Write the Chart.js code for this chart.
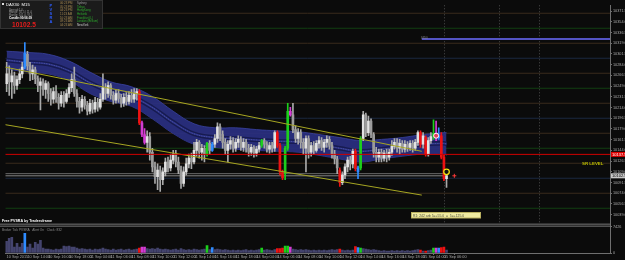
<!DOCTYPE html>
<html>
<head>
<meta charset="utf-8">
<title>DAX30 M15</title>
<script src="https://cdn.jsdelivr.net/npm/chart.js@4.4.0/dist/chart.umd.min.js"></script>
<style>
  html, body { margin: 0; padding: 0; background: #0b0b0b; }
  canvas { display: block; }
</style>
</head>
<body>
<canvas id="chart" width="625" height="260"></canvas>
<script>
// ================================
// DAX30 M15 - PVSRA chart
// ================================

// OHLC per M15 candle (index 0 = first candle on screen)
const openP = [
  10253,10269,10256,10266,10250,10259.5,10269,10280,10301,10282,
  10269,10275.5,10261,10250,10256,10243.5,10253,10237,10227.5,10240,
  10230.5,10221,10234,10224,10237,10246.5,10259.5,10237,10224,10214.5,
  10227.5,10218,10208,10221,10211.5,10222.5,10214.5,10227.5,10246.5,10237,
  10250,10234,10226,10237,10229,10221,10230.5,10224,10234,10227.5,
  10237,10240,10189,10170,10157,10166.5,10141,10117,10101,10112,
  10096,10109,10125,10115.5,10128,10138,10125,10112,10090,10109,
  10122,10131.5,10125,10144,10157,10141,10147.5,10138,10155.5,10144,
  10154,10163.5,10182.5,10170,10157,10144,10154,10160,10147.5,10157,
  10162,10149,10157,10147.5,10141,10149,10139.5,10146,10152,10160,
  10154,10146,10152,10147.5,10173,10152,10109,10106,10147.5,10208,
  10202,10178,10163.5,10173,10157,10147.5,10163.5,10141,10152,10144,
  10155.5,10160,10149,10157,10162,10152,10138,10130,10112,10091.5,
  10104,10117,10128,10122,10142.5,10109,10115.5,10163.5,10202,10173,
  10192,10170,10141,10133,10141,10131.5,10139.5,10133,10141,10150.5,
  10157,10147.5,10155.5,10146,10154,10149,10155.5,10147.5,10157,10173,
  10154,10165,10138,10160,10166.5,10171.5,10165,10168,10133,10098
];
const highP = [
  10288,10282,10275.5,10272,10266,10277,10288,10320,10306,10288,
  10283.5,10280,10266,10262.5,10261,10258,10256,10245,10246.5,10250,
  10237,10240,10240,10243.5,10253,10269,10280,10243.5,10230.5,10234,
  10232,10224,10227.5,10226,10230.5,10229,10237,10269,10253,10256,
  10253,10240,10242,10243.5,10235.5,10237,10238.5,10240,10243.5,10245,
  10245,10243.5,10192,10179.5,10176,10173,10147.5,10125,10122,10118.5,
  10115.5,10131.5,10133,10138,10144,10144,10133,10118.5,10117,10131.5,
  10138,10139.5,10157,10162,10160,10154,10152,10157,10160,10157,
  10170,10189,10187.5,10176,10163.5,10160,10166.5,10165,10163.5,10168,
  10166.5,10163.5,10162,10154,10154,10152,10150.5,10157,10162,10163.5,
  10158.5,10157,10157,10176,10176,10155.5,10112,10150.5,10221,10214.5,
  10221,10184,10179.5,10178,10163.5,10168,10168,10157,10158.5,10160,
  10166.5,10165,10162,10168,10166.5,10157,10144,10134.5,10115.5,10109,
  10122,10133,10134.5,10146,10146,10118.5,10166.5,10208,10205,10200,
  10195.5,10173,10149,10146,10146,10144,10146,10146,10160,10163.5,
  10163.5,10162,10160,10160,10158.5,10160,10160,10162,10176,10176,
  10173,10168,10165,10173,10194,10192,10181,10173,10136,10107.5
];
const lowP = [
  10240,10234,10229,10237,10243.5,10253,10262.5,10277,10275.5,10258,
  10259.5,10253,10240,10210,10234,10229,10224,10218,10221,10222.5,
  10211.5,10216,10214.5,10221,10230.5,10240,10232,10214.5,10205,10208,
  10211.5,10202,10203.5,10205,10206.5,10208,10211.5,10224,10227.5,10230.5,
  10227.5,10219.5,10221,10222.5,10214.5,10216,10218,10219.5,10222.5,10222.5,
  10226,10186,10166.5,10154,10141,10128,10109,10090,10080,10077,
  10088,10102.5,10109,10110.5,10122,10117,10106,10082,10085,10104,
  10115.5,10114,10122,10134.5,10131.5,10128,10125,10134.5,10138,10142.5,
  10149,10157,10160,10147.5,10138,10125,10146,10141,10142.5,10149,
  10144,10142.5,10141,10134.5,10136,10133,10134.5,10141,10149,10147.5,
  10141,10139.5,10141,10142.5,10149,10104,10096,10096,10144,10200,
  10173,10157,10154,10147.5,10138,10109,10131.5,10134.5,10138,10141,
  10147.5,10144,10141,10149,10146,10131.5,10122,10106,10085,10088,
  10098,10109,10112,10115.5,10110.5,10098,10112,10160,10166.5,10168,
  10165,10133,10125,10125,10125,10126.5,10125,10128,10136,10146,
  10141,10138,10141,10141,10142.5,10144,10141,10144,10152,10149,
  10147.5,10134.5,10134.5,10155.5,10162,10160,10162,10130,10094.5,10083.5
];
const closeP = [
  10269,10256,10266,10250,10259.5,10269,10280,10302.5,10282,10269,
  10275.5,10261,10250,10256,10243.5,10253,10237,10227.5,10240,10230.5,
  10221,10234,10224,10237,10246.5,10259.5,10237,10224,10214.5,10227.5,
  10218,10208,10221,10211.5,10222.5,10214.5,10227.5,10246.5,10237,10250,
  10234,10226,10237,10229,10221,10230.5,10224,10234,10227.5,10237,
  10240,10189,10170,10157,10166.5,10141,10117,10101,10112,10096,
  10109,10125,10115.5,10128,10138,10125,10112,10090,10109,10122,
  10131.5,10125,10144,10157,10141,10147.5,10138,10155.5,10144,10154,
  10163.5,10182.5,10170,10157,10144,10154,10160,10147.5,10157,10162,
  10149,10157,10147.5,10141,10149,10139.5,10146,10152,10160,10154,
  10146,10152,10147.5,10173,10152,10109,10099.5,10147.5,10208,10202,
  10178,10163.5,10173,10157,10147.5,10163.5,10141,10152,10144,10155.5,
  10160,10149,10157,10162,10152,10138,10130,10115.5,10091.5,10104,
  10117,10128,10122,10142.5,10114,10115.5,10163.5,10202,10173,10192,
  10170,10141,10133,10141,10131.5,10139.5,10133,10141,10150.5,10157,
  10147.5,10155.5,10146,10154,10149,10155.5,10147.5,10157,10173,10154,
  10168,10138,10160,10166.5,10171.5,10165,10168,10133,10098,10102.5
];

// Broker tick volume
const volume = [
  3300,4125,4400,1650,2750,1650,2750,5500,1650,2475,
  1375,3025,2475,3575,1375,1100,1100,960,825,1100,
  960,1100,1925,1790,1925,1650,1650,1375,1100,1240,
  1100,960,1100,825,1100,960,1100,1375,1100,960,
  825,1100,825,960,1100,825,960,1100,825,960,
  1100,1375,1650,1650,1240,1100,1240,1100,1375,1100,
  960,1100,960,825,960,1100,825,1240,960,825,
  960,825,1100,960,825,960,1100,2060,960,1510,
  960,1100,960,825,960,825,690,825,690,825,
  690,825,960,690,825,690,825,960,1375,825,
  960,825,690,960,1240,1240,1375,1925,1925,1650,
  1100,960,825,960,825,960,825,690,825,690,
  825,690,825,690,825,960,825,960,1100,825,
  690,825,690,825,1790,1510,1375,1240,1100,960,
  825,960,825,690,550,690,550,550,690,550,
  690,550,690,550,690,550,690,825,960,825,
  550,550,690,825,1375,1375,1375,1510,1650,825
];

// PVSRA candle classes (candle indices)
const climaxBull = [77, 98, 107, 108, 136, 164];                        // green
const climaxBear = [51, 104, 105, 106, 128, 134, 159, 161, 167, 168];   // red
const risingBull = [7, 79, 135, 166];                                   // blue
const risingBear = [52, 53, 109, 165];                                  // magenta

// time axis, one label every 8 candles
const timeLabels = [
  "10 Sep 2015","10 Sep 14:00","10 Sep 16:00","10 Sep 18:00","11 Sep 04:00","11 Sep 06:00",
  "11 Sep 08:00","11 Sep 10:00","11 Sep 12:00","11 Sep 14:00","11 Sep 16:00","11 Sep 18:00",
  "14 Sep 04:00","14 Sep 06:00","14 Sep 08:00","14 Sep 10:00","14 Sep 12:00","14 Sep 14:00",
  "14 Sep 16:00","14 Sep 18:00","15 Sep 04:00","15 Sep 06:00"
];
const labelEvery = 8;

// price axis labels
const priceTicks = [10371.5,10354.0,10336.5,10319.0,10301.5,10284.0,10266.5,10249.0,10231.5,10214.0,
  10196.5,10179.0,10161.5,10144.0,10126.5,10109.0,10091.5,10074.0,10056.5,10039.0];
const volumeTicks = [0, 7426];

// MA envelope (blue band)
const bandIdx    = [0,8,16,24,32,40,48,56,64,72,80,88,96,104,112,120,128,136,144,152,160,168,169];
const bandTop    = [10306,10304,10301,10290,10272,10256,10248,10232,10208,10187.5,10181,10181,10178,10176,10174.5,10170,10165,10160,10162,10165,10170,10173,10173];
const bandBottom = [10277,10272,10269,10258,10237,10224,10216,10195.5,10171.5,10154,10149,10146,10144,10142.5,10141,10136,10130,10125,10130,10134.5,10138,10138,10136];
const bandMid    = [10291.5,10288,10285,10274,10254.5,10240,10232,10214,10190,10171,10165,10163.5,10161,10159,10158,10153,10147.5,10142.5,10146,10150,10154,10155.5,10154.5];

// pivot / level lines
const pivotLevels = [10368,10343.5,10319,10294.5,10270,10245.5,10221,10196.5,10172,10147.5,10123,10098.5,10074,10049.5];
const pivotKinds  = ["o","g","o","b","o","g","o","b","o","g","o","b","o","g"];

const srLevel = 10137.5;
const bidPrice = 10102.5;
const bidLines = [10106, 10102.5];
const resistance = 10326;
const upperTrend = [[-0.5, 10280], [159.5, 10142.5]];
const lowerTrend = [[-0.5, 10186], [159.5, 10071]];
const sessionMarks = [168, 189, 204.5];
const arrowUp = { x: 165, y: 10168 };
const arrowDn = { x: 169, y: 10109 };
const askMark = { x: 172, y: 10102.5 };

const lastSlot = 231.8;

// ================================
// STYLES
// ================================
const pvsraColor = { g: "#1ccf1c", r: "#ec1212", b: "#2f8cff", m: "#d43cd4" };
const pivotColor = { o: "#3a2b1c", g: "#123f12", b: "#1b2940" };
const FONT = '"Liberation Sans", "DejaVu Sans", sans-serif';

function pvsraClass(i) {
  if (climaxBull.includes(i)) return "g";
  if (climaxBear.includes(i)) return "r";
  if (risingBull.includes(i)) return "b";
  if (risingBear.includes(i)) return "m";
  return "n";
}

const idx = openP.map((_, i) => i);

function hline(y, x0, x1, color, width, order, dash) {
  return {
    type: "line",
    data: [{ x: x0, y: y }, { x: x1, y: y }],
    borderColor: color, borderWidth: width, borderDash: dash || [],
    pointRadius: 0, fill: false, order: order, yAxisID: "y"
  };
}

function bandLine(values, color, width, order, extra) {
  return Object.assign({
    type: "line",
    data: bandIdx.map((x, k) => ({ x: x, y: values[k] })),
    borderColor: color, borderWidth: width,
    pointRadius: 0, tension: 0.4, fill: false, order: order, yAxisID: "y"
  }, extra || {});
}

const datasets = [];

// pivot lines
pivotLevels.forEach((p, k) => datasets.push(hline(p, -0.5, lastSlot, pivotColor[pivotKinds[k]], 1, 40)));

// band
datasets.push(bandLine(bandTop, "rgba(58,66,160,0.8)", 1, 30, { fill: "+1", backgroundColor: "rgba(42,48,132,0.9)" }));
datasets.push(bandLine(bandBottom, "rgba(58,66,160,0.8)", 1, 30));
datasets.push(bandLine(bandMid, "#171b50", 4.5, 29));
datasets.push(bandLine(bandMid, "#2c338c", 1.6, 28));
datasets.push(bandLine(bandMid, "#6a70a0", 0.6, 27, { borderDash: [1, 1.5] }));

// bid lines (gray)
bidLines.forEach((p, k) => datasets.push(hline(p, -0.5, 169.5, k ? "#858585" : "#6a6a6a", 1, 20)));

// candles: wicks and bodies
datasets.push({
  type: "bar",
  data: idx.map(i => ({ x: i, y: [lowP[i], highP[i]] })),
  backgroundColor: idx.map(i => { const c = pvsraClass(i); return c === "n" ? "#a9a9a9" : pvsraColor[c]; }),
  barThickness: 1, grouped: false, order: 10, yAxisID: "y"
});
datasets.push({
  type: "bar",
  data: idx.map(i => ({ x: i, y: [openP[i], closeP[i]] })),
  backgroundColor: idx.map(i => {
    const c = pvsraClass(i);
    if (c !== "n") return pvsraColor[c];
    return closeP[i] >= openP[i] ? "#e2e2e2" : "#9c9c9c";
  }),
  barThickness: 2, minBarLength: 1, grouped: false, order: 9, yAxisID: "y"
});

// volume pane
datasets.push({
  type: "bar",
  data: idx.map(i => ({ x: i, y: volume[i] })),
  backgroundColor: idx.map(i => { const c = pvsraClass(i); return c === "n" ? "#44446e" : pvsraColor[c]; }),
  barThickness: 2, grouped: false, order: 9, yAxisID: "yv"
});

// trend channel, levels
[upperTrend, lowerTrend].forEach(t => datasets.push({
  type: "line",
  data: t.map(p => ({ x: p[0], y: p[1] })),
  borderColor: "#a6a622", borderWidth: 1, pointRadius: 0, fill: false, order: 3, yAxisID: "y"
}));
datasets.push(hline(srLevel, -0.5, lastSlot, "#d00000", 1, 2));
datasets.push(hline(resistance, 159.5, lastSlot, "#5454c4", 2, 2));

// signal markers
datasets.push({
  type: "line", showLine: false, data: [arrowUp],
  pointRadius: 2.5, pointBackgroundColor: "#e0405a", pointBorderColor: "#ffffff", pointBorderWidth: 1,
  order: 1, yAxisID: "y"
});
datasets.push({
  type: "line", showLine: false, data: [arrowDn],
  pointRadius: 2.8, pointBackgroundColor: "#111111", pointBorderColor: "#f0e010", pointBorderWidth: 1.3,
  order: 1, yAxisID: "y"
});
datasets.push({
  type: "line", showLine: false, data: [askMark],
  pointStyle: "cross", pointRadius: 2, pointBorderColor: "#ff3a3a", pointBorderWidth: 1,
  order: 1, yAxisID: "y"
});

// ================================
// OVERLAY: panels, texts, tags
// ================================
function txt(c, s, x, y, color, size, weight) {
  c.font = (weight || "normal") + " " + size + "px " + FONT;
  c.fillStyle = color;
  c.fillText(s, x, y);
}

function priceTag(c, scale, value, bg, fg) {
  const py = scale.getPixelForValue(value);
  c.fillStyle = bg;
  c.fillRect(611, py - 2.5, 14, 5);
  txt(c, value.toFixed(1), 612, py + 1.5, fg, 4);
}

const overlay = {
  id: "overlay",
  beforeDraw(chart) {
    const c = chart.ctx;
    c.save();
    c.fillStyle = "#0b0b0b";
    c.fillRect(0, 0, chart.width, chart.height);
    c.restore();
  },
  beforeDatasetsDraw(chart) {
    const c = chart.ctx, x = chart.scales.x, y = chart.scales.y;
    c.save();
    c.setLineDash([1, 2]);
    c.strokeStyle = "#4c4c4c";
    c.lineWidth = 1;
    sessionMarks.forEach(i => {
      const px = Math.round(x.getPixelForValue(i)) + 0.5;
      c.beginPath(); c.moveTo(px, y.top); c.lineTo(px, y.bottom); c.stroke();
    });
    c.restore();
  },
  afterDraw(chart) {
    const c = chart.ctx, y = chart.scales.y, yv = chart.scales.yv;
    c.save();
    c.textBaseline = "alphabetic";

    // pane separator
    c.fillStyle = "#777777";
    c.fillRect(0, y.bottom + 1, 611, 1);
    c.fillRect(0, y.bottom + 3, 611, 1);

    // info panel
    c.fillStyle = "#1b1b1b";
    c.fillRect(0, 0, 103, 29);
    c.strokeStyle = "#333333";
    c.strokeRect(0.5, 0.5, 102, 28);
    c.fillStyle = "#dddddd";
    c.fillRect(2, 3, 2, 2);
    txt(c, "DAX30  M15", 6, 6, "#ffffff", 4.2);
    const rows = [["Spread:", "1.0"], ["Range:", "92.5 / 11.0"], ["Range:", "101.0 / 8.5"]];
    rows.forEach((r, k) => {
      txt(c, r[0], 9, 10.5 + k * 2.8, "#9c9c9c", 2.8);
      txt(c, r[1], 19, 10.5 + k * 2.8, "#9c9c9c", 2.8);
    });
    txt(c, "Candle:", 9, 19.3, "#ffffff", 3, "bold");
    txt(c, "00:06:39", 20, 19.3, "#ffffff", 3, "bold");
    txt(c, "10102.5", 12, 27, "#e81c1c", 6.6, "bold");
    "PVSRA".split("").forEach((ch, k) => txt(c, ch, 49.5, 7 + k * 4, "#2c5cff", 4, "bold"));
    const clocks = [
      ["06:23 PM", "Sydney", "#9a9a9a"], ["05:23 PM", "Tokyo", "#2caa2c"], ["04:23 PM", "HongKong", "#2caa2c"],
      ["11:23 AM", "Helsinki", "#2caa2c"], ["10:23 AM", "Frankfurt (L)", "#2caa2c"],
      ["09:23 AM", "London (BrSum)", "#2caa2c"], ["04:23 AM", "NewYork", "#c8c8c8"]
    ];
    clocks.forEach((r, k) => {
      txt(c, r[0], 60, 4 + k * 3.65, "#a88a52", 2.9);
      txt(c, r[1], 77, 4 + k * 3.65, r[2], 2.9);
    });

    // chart texts
    txt(c, "9350", 421, 38.5, "#8a8a8a", 3);
    txt(c, "SR LEVEL", 582, 164.5, "#b8b800", 4.4, "bold");
    c.fillStyle = "#efeaa0";
    c.fillRect(411, 212.5, 70, 5.5);
    c.strokeStyle = "#b9b060";
    c.strokeRect(411.5, 212.5, 69, 5.5);
    txt(c, "R1: 242 arb 5=+55.0  =  5=+125.0", 413, 216.8, "#4a4a3a", 3.4);
    txt(c, "Free PVSRA by Tradersframe", 2, 222.3, "#ffffff", 3.6, "bold");
    txt(c, "Broker Tick PVSRA   Alert On   Clock: 832", 2, yv.top + 8.5, "#8c8c8c", 3.2);

    // axis price tags
    priceTag(c, y, srLevel, "#e00000", "#ffffff");
    priceTag(c, y, bidPrice, "#c8c8c8", "#000000");
    c.restore();
  }
};

// ================================
// CHART
// ================================
const tickFont = { size: 3.8, family: FONT };

new Chart(document.getElementById("chart").getContext("2d"), {
  type: "bar",
  data: { datasets: datasets },
  options: {
    responsive: false,
    animation: false,
    devicePixelRatio: 1,
    layout: { padding: 0 },
    plugins: { legend: { display: false }, tooltip: { enabled: false } },
    events: [],
    scales: {
      x: {
        type: "linear",
        min: -0.5,
        max: lastSlot,
        offset: false,
        grid: { drawOnChartArea: false, tickLength: 2, color: "#6f6f6f" },
        border: { color: "#6f6f6f" },
        ticks: {
          color: "#a8a8a8", font: tickFont, padding: 0, align: "start",
          autoSkip: false, maxRotation: 0, minRotation: 0,
          callback: (v, k) => timeLabels[k]
        },
        afterBuildTicks: s => { s.ticks = timeLabels.map((_, k) => ({ value: k * labelEvery })); },
        afterFit: s => { s.height = 7; }
      },
      y: {
        type: "linear",
        position: "right",
        stack: "pane",
        stackWeight: 222,
        min: 10026,
        max: 10381,
        grid: { drawOnChartArea: false, tickLength: 2, color: "#6f6f6f" },
        border: { color: "#6f6f6f" },
        ticks: { color: "#a8a8a8", font: tickFont, padding: 1, autoSkip: false, callback: v => v.toFixed(1) },
        afterBuildTicks: s => { s.ticks = priceTicks.map(v => ({ value: v })); },
        afterFit: s => { s.width = 15; }
      },
      yv: {
        type: "linear",
        position: "right",
        stack: "pane",
        stackWeight: 31,
        min: 0,
        max: 8525,
        grid: { drawOnChartArea: false, tickLength: 2, color: "#6f6f6f" },
        border: { color: "#6f6f6f" },
        ticks: { color: "#a8a8a8", font: tickFont, padding: 1, autoSkip: false, callback: v => String(v) },
        afterBuildTicks: s => { s.ticks = volumeTicks.map(v => ({ value: v })); },
        afterFit: s => { s.width = 15; }
      }
    }
  },
  plugins: [overlay]
});
</script>
</body>
</html>
